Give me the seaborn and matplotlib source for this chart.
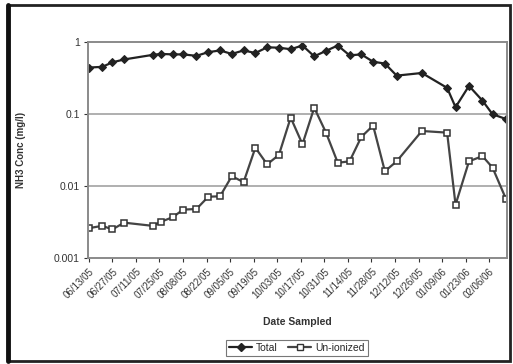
import matplotlib
matplotlib.use("Agg")
import matplotlib.pyplot as plt
from matplotlib.lines import Line2D
from matplotlib.patches import Rectangle
import pandas as pd
import seaborn as sns

# Sampling dates
sample_dates = [
    "06/13/05", "06/21/05", "06/27/05", "07/04/05", "07/21/05", "07/26/05",
    "08/02/05", "08/08/05", "08/16/05", "08/23/05", "08/30/05", "09/06/05",
    "09/13/05", "09/20/05", "09/27/05", "10/04/05", "10/11/05", "10/18/05",
    "10/25/05", "11/01/05", "11/08/05", "11/15/05", "11/22/05", "11/29/05",
    "12/06/05", "12/13/05", "12/28/05", "01/12/06", "01/17/06", "01/25/06",
    "02/02/06", "02/08/06", "02/16/06",
]

# NH3 concentrations (mg/l)
total_nh3 = [
    0.44, 0.45, 0.52, 0.57, 0.66, 0.68, 0.67, 0.67, 0.64, 0.72, 0.76, 0.68,
    0.76, 0.70, 0.84, 0.83, 0.79, 0.89, 0.63, 0.75, 0.89, 0.65, 0.67, 0.53,
    0.50, 0.34, 0.37, 0.23, 0.124, 0.245, 0.153, 0.099, 0.085,
]
unionized_nh3 = [
    0.0026, 0.0028, 0.0025, 0.0031, 0.0028, 0.0032, 0.0037, 0.0047, 0.0048,
    0.0071, 0.0072, 0.0137, 0.0113, 0.034, 0.020, 0.027, 0.089, 0.038, 0.122,
    0.055, 0.021, 0.022, 0.048, 0.069, 0.016, 0.022, 0.058, 0.055, 0.0055,
    0.022, 0.026, 0.018, 0.0066,
]

# Date axis tick labels (two-week spacing)
tick_labels = [
    "06/13/05", "06/27/05", "07/11/05", "07/25/05", "08/08/05", "08/22/05",
    "09/05/05", "09/19/05", "10/03/05", "10/17/05", "10/31/05", "11/14/05",
    "11/28/05", "12/12/05", "12/26/05", "01/09/06", "01/23/06", "02/06/06",
]
y_ticks = [0.001, 0.01, 0.1, 1]
y_tick_labels = ["0.001", "0.01", "0.1", "1"]

series_names = ["Total", "Un-ionized"]

dates = pd.to_datetime(sample_dates, format="%m/%d/%y")
df = pd.concat([
    pd.DataFrame({"Date": dates, "Conc": total_nh3, "Series": series_names[0]}),
    pd.DataFrame({"Date": dates, "Conc": unionized_nh3, "Series": series_names[1]}),
])

sns.set_style("white")
plt.rcParams["font.family"] = ["Liberation Sans", "DejaVu Sans"]

fig = plt.figure(figsize=(5.13, 3.64), dpi=100)
ax = fig.add_axes([0.1715, 0.291, 0.8165, 0.594])

ink = "#222222"
sns.lineplot(data=df[df.Series == "Total"], x="Date", y="Conc", ax=ax,
             color=ink, lw=1.6, marker="D", markersize=4.5,
             markerfacecolor=ink, markeredgecolor=ink, legend=False)
sns.lineplot(data=df[df.Series == "Un-ionized"], x="Date", y="Conc", ax=ax,
             color="#444444", lw=1.6, marker="s", markersize=5,
             markerfacecolor="white", markeredgecolor="#333333",
             markeredgewidth=1.1, legend=False)

ax.set_yscale("log")
ax.set_ylim(0.001, 1)
ax.set_yticks(y_ticks)
ax.set_yticklabels(y_tick_labels)
ax.yaxis.set_minor_locator(matplotlib.ticker.NullLocator())

tick_dates = pd.to_datetime(tick_labels, format="%m/%d/%y")
ax.set_xlim(tick_dates[0] - pd.Timedelta(days=0.5),
            tick_dates[0] + pd.Timedelta(days=248.5))
ax.set_xticks(tick_dates)
ax.set_xticklabels(tick_labels, rotation=45, ha="right", rotation_mode="anchor")

ax.grid(False)
for yv in [0.01, 0.1]:
    ax.axhline(yv, color="#9a9a9a", lw=1.1, zorder=0)

for s in ax.spines.values():
    s.set_color("#8a8a8a")
    s.set_linewidth(1.4)

ax.tick_params(axis="both", labelsize=7, colors="#333333", length=3,
               width=0.8, direction="out", pad=3)
ax.tick_params(axis="y", left=True, labelsize=7.5)
ax.tick_params(axis="x", bottom=True)

ax.set_xlabel("Date Sampled", fontsize=7.5, fontweight="bold", color="#333333",
              labelpad=12)
ax.set_ylabel("NH3 Conc (mg/l)", fontsize=7, fontweight="bold",
              color="#333333", labelpad=20)

handles = [
    Line2D([], [], color=ink, lw=1.6, marker="D", markersize=4,
           markerfacecolor=ink, markeredgecolor=ink),
    Line2D([], [], color="#444444", lw=1.6, marker="s", markersize=4.5,
           markerfacecolor="white", markeredgecolor="#333333"),
]
leg = fig.legend(handles, series_names, loc="center",
                 bbox_to_anchor=(0.579, 0.044), ncol=2, fontsize=7.5,
                 frameon=True, fancybox=False, handlelength=2.2,
                 columnspacing=1.0, handletextpad=0.4, borderpad=0.3)
leg.get_frame().set_edgecolor("#555555")
leg.get_frame().set_linewidth(0.8)

# Outer chart frame
fig.patches.append(Rectangle((0.016, 0.008), 0.978, 0.978,
                             transform=fig.transFigure, fill=False,
                             edgecolor="#222222", lw=2.0))
fig.lines.append(Line2D([0.016, 0.016], [0.008, 0.986],
                        transform=fig.transFigure, color="#111111", lw=3.5))

fig.savefig("out.png", dpi=100)
